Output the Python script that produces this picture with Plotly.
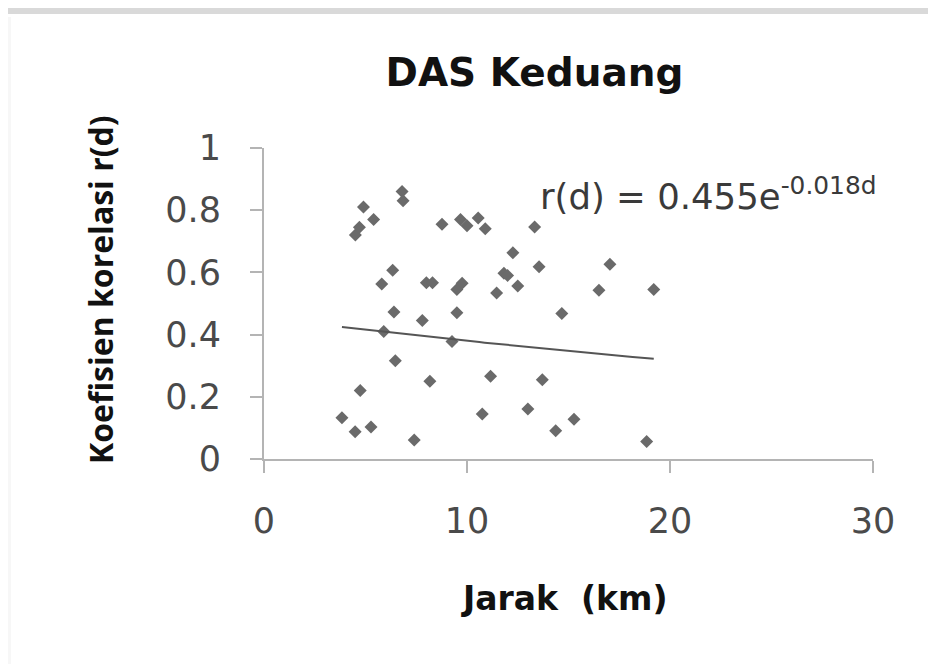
import plotly.graph_objects as go
import numpy as np

# Data
jarak_km = [3.84, 4.49, 4.74, 4.5, 4.7, 4.9, 5.27, 5.4, 5.8, 5.9, 6.34, 6.4, 6.47, 6.8, 6.85,
            7.4, 7.8, 8.0, 8.3, 8.17, 8.77, 9.26, 9.5, 9.5, 9.76, 9.68, 10.0, 10.55, 10.9,
            10.75, 11.16, 11.46, 11.82, 12.0, 12.26, 12.5, 13.0, 13.33, 13.55, 13.71, 14.37,
            14.67, 15.27, 16.5, 17.04, 18.85, 19.2]
korelasi = [0.133, 0.088, 0.22, 0.72, 0.745, 0.81, 0.103, 0.77, 0.563, 0.41, 0.607, 0.473, 0.316,
            0.86, 0.83, 0.061, 0.445, 0.567, 0.567, 0.25, 0.755, 0.378, 0.47, 0.545, 0.565, 0.77,
            0.75, 0.775, 0.74, 0.145, 0.266, 0.534, 0.597, 0.59, 0.663, 0.556, 0.161, 0.746,
            0.618, 0.255, 0.091, 0.468, 0.128, 0.543, 0.626, 0.056, 0.545]

# Trendline shown in chart: r(d) = 0.455 e^(-0.018 d)
trend_a = 0.455
trend_b = -0.018

x_ticks = [0, 10, 20, 30]
x_ticktext = ["0", "10", "20", "30"]
y_ticks = [0, 0.2, 0.4, 0.6, 0.8, 1.0]
y_ticktext = ["0", "0.2", "0.4", "0.6", "0.8", "1"]

title_text = "DAS Keduang"
x_title = "Jarak\u00a0\u00a0(km)"
y_title = "Koefisien korelasi r(d)"
eq_text = "r(d) = 0.455e<sup>-0.018d</sup>"

trend_x = np.linspace(min(jarak_km), max(jarak_km), 60)
trend_y = trend_a * np.exp(trend_b * trend_x)

# page body has an 8px margin; shift the layout to compensate
OFF = 8

fig = go.Figure()
fig.add_trace(go.Scatter(
    x=jarak_km, y=korelasi, mode="markers",
    marker=dict(symbol="diamond", size=10, color="#6a6a6a", line=dict(width=0)),
    showlegend=False, hoverinfo="x+y"))
fig.add_trace(go.Scatter(
    x=trend_x, y=trend_y, mode="lines",
    line=dict(color="#555555", width=2),
    showlegend=False, hoverinfo="skip"))

axis_color = "#b4b4b4"
tick_font = dict(family="DejaVu Sans", size=35, color="#4a4a4a")

fig.update_xaxes(
    range=[0, 30], tickvals=x_ticks, ticktext=x_ticktext,
    showline=True, linecolor=axis_color, linewidth=2,
    ticks="outside", ticklen=12, tickwidth=2, tickcolor=axis_color,
    showgrid=False, zeroline=False, tickfont=tick_font,
    ticklabelstandoff=18)
fig.update_yaxes(
    range=[0, 1], tickvals=y_ticks, ticktext=y_ticktext,
    showline=True, linecolor=axis_color, linewidth=2,
    ticks="outside", ticklen=12, tickwidth=2, tickcolor=axis_color,
    showgrid=False, zeroline=False, tickfont=tick_font,
    ticklabelstandoff=22)

fig.update_layout(
    width=936, height=664,
    margin=dict(l=264 - OFF, r=63 + OFF, t=148 - OFF, b=205 + OFF, autoexpand=False),
    paper_bgcolor="white", plot_bgcolor="white",
    title=dict(text="<b>" + title_text + "</b>",
               font=dict(family="DejaVu Sans", size=39, color="#111111"),
               x=(534.5 - OFF) / 936, xref="container", xanchor="center",
               y=1 - (72 - OFF) / 664, yref="container", yanchor="middle"),
    shapes=[
        dict(type="rect", xref="paper", yref="paper",
             x0=(8 - 264) / 609, x1=(936 - 264) / 609,
             y0=(459 - 14) / 311, y1=(459 - 8) / 311,
             fillcolor="#d9d9d9", line=dict(width=0), layer="below"),
        dict(type="rect", xref="paper", yref="paper",
             x0=(8 - 264) / 609, x1=(11 - 264) / 609,
             y0=(459 - 680) / 311, y1=(459 - 17) / 311,
             fillcolor="#f7f7f7", line=dict(width=0), layer="below"),
    ],
    annotations=[
        dict(text=eq_text, xref="x", yref="y", x=(538 - 264) / 20.3, y=(459 - 194) / 311,
             xanchor="left", yanchor="middle", showarrow=False,
             font=dict(family="DejaVu Sans", size=35.5, color="#3a3a3a")),
        dict(text="<b>" + x_title + "</b>", xref="paper", yref="paper",
             x=(564 - 264) / 609, y=(459 - 598) / 311,
             xanchor="center", yanchor="middle", showarrow=False,
             font=dict(family="DejaVu Sans", size=33, color="#111111")),
        dict(text="<b>" + y_title + "</b>", xref="paper", yref="paper",
             x=(100 - 264) / 609, y=(459 - 290) / 311, textangle=-90,
             xanchor="center", yanchor="middle", showarrow=False,
             font=dict(family="Open Sans", size=32, color="#111111")),
    ],
)

fig.write_html("out.html")
